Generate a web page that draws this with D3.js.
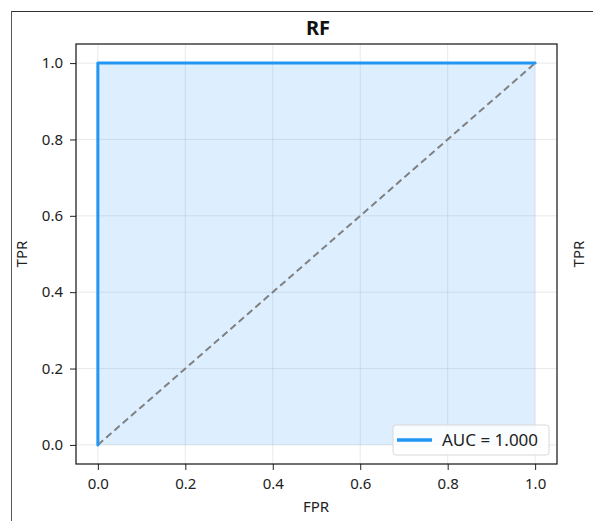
<!DOCTYPE html>
<html><head><meta charset="utf-8">
<script src="https://cdn.jsdelivr.net/npm/d3@7"></script>
<style>body{margin:0;background:#fff}svg{display:block}text{font-family:"Noto Sans",sans-serif}</style>
</head><body>
<script>
const fpr = [0.0, 0.0, 1.0];
const tpr = [0.0, 1.0, 1.0];
const chance = [0, 1];
const ticks = [0.0, 0.2, 0.4, 0.6, 0.8, 1.0];
const title = "RF";
const legendLabel = "AUC = 1.000";

const W = 593, H = 521;
const svg = d3.select("body").append("svg").attr("width", W).attr("height", H);
// figure frame
svg.append("line").attr("x1", 11).attr("x2", W).attr("y1", 11.5).attr("y2", 11.5).attr("stroke", "#333").attr("stroke-width", 1);
svg.append("line").attr("x1", 11.5).attr("x2", 11.5).attr("y1", 11).attr("y2", H).attr("stroke", "#555").attr("stroke-width", 1);

const L = 76, R = 557, T = 44, B = 464;
const x = d3.scaleLinear().domain([-0.05, 1.05]).range([L, R]);
const y = d3.scaleLinear().domain([-0.05, 1.05]).range([B, T]);

const g = svg.append("g");
// grid
g.selectAll(".gx").data(ticks).join("line").attr("x1", d => x(d)).attr("x2", d => x(d)).attr("y1", T).attr("y2", B).attr("stroke", "#b0b0b0").attr("stroke-opacity", 0.35).attr("stroke-width", 0.8);
g.selectAll(".gy").data(ticks).join("line").attr("y1", d => y(d)).attr("y2", d => y(d)).attr("x1", L).attr("x2", R).attr("stroke", "#b0b0b0").attr("stroke-opacity", 0.35).attr("stroke-width", 0.8);

const pts = fpr.map((f, i) => [f, tpr[i]]);
// fill
g.append("path").datum(pts).attr("d", d3.area().x(d => x(d[0])).y0(y(0)).y1(d => y(d[1]))).attr("fill", "#1e90ff").attr("fill-opacity", 0.15);
// chance
g.append("path").datum(chance.map(v => [v, v])).attr("d", d3.line().x(d => x(d[0])).y(d => y(d[1]))).attr("stroke", "#808080").attr("stroke-width", 2).attr("stroke-dasharray", "7,4").attr("fill", "none");
// roc
g.append("path").datum(pts).attr("d", d3.line().x(d => x(d[0])).y(d => y(d[1]))).attr("stroke", "#2196f3").attr("stroke-width", 3).attr("fill", "none").attr("stroke-linejoin", "round").attr("stroke-linecap", "round");

// axes
const xa = svg.append("g").attr("transform", `translate(0,${B})`).call(d3.axisBottom(x).tickValues(ticks).tickFormat(d3.format(".1f")).tickSize(6).tickPadding(8));
const ya = svg.append("g").attr("transform", `translate(${L},0)`).call(d3.axisLeft(y).tickValues(ticks).tickFormat(d3.format(".1f")).tickSize(6).tickPadding(7));
[xa, ya].forEach(a => { a.attr("font-size", 15).attr("font-family", "Noto Sans"); a.select(".domain").remove(); a.selectAll("text").style("font-size", "15px").attr("fill", "#222"); a.selectAll("line").attr("stroke", "#222"); });
svg.append("rect").attr("x", L).attr("y", T).attr("width", R - L).attr("height", B - T).attr("fill", "none").attr("stroke", "#111").attr("stroke-width", 1.2);

svg.append("text").attr("x", 318).attr("y", 35).attr("text-anchor", "middle").style("font-size", "20px").attr("font-weight", "bold").attr("fill", "#111").text(title);
svg.append("text").attr("x", 316).attr("y", 512).attr("text-anchor", "middle").style("font-size", "15px").attr("fill", "#222").text("FPR");
svg.append("text").attr("transform", `translate(27,254) rotate(-90)`).attr("text-anchor", "middle").style("font-size", "15px").attr("fill", "#222").text("TPR");
svg.append("text").attr("transform", `translate(584,254) rotate(-90)`).attr("text-anchor", "middle").style("font-size", "15px").attr("fill", "#222").text("TPR");

// legend
const lg = svg.append("g");
lg.append("rect").attr("x", 393).attr("y", 425).attr("width", 156).attr("height", 30).attr("rx", 3).attr("fill", "#fff").attr("fill-opacity", 0.85).attr("stroke", "#d8d8d8");
lg.append("line").attr("x1", 397).attr("x2", 432).attr("y1", 440).attr("y2", 440).attr("stroke", "#2196f3").attr("stroke-width", 3.5);
lg.append("text").attr("x", 442).attr("y", 446).style("font-size", "17px").attr("fill", "#222").text(legendLabel);
</script>
</body></html>
